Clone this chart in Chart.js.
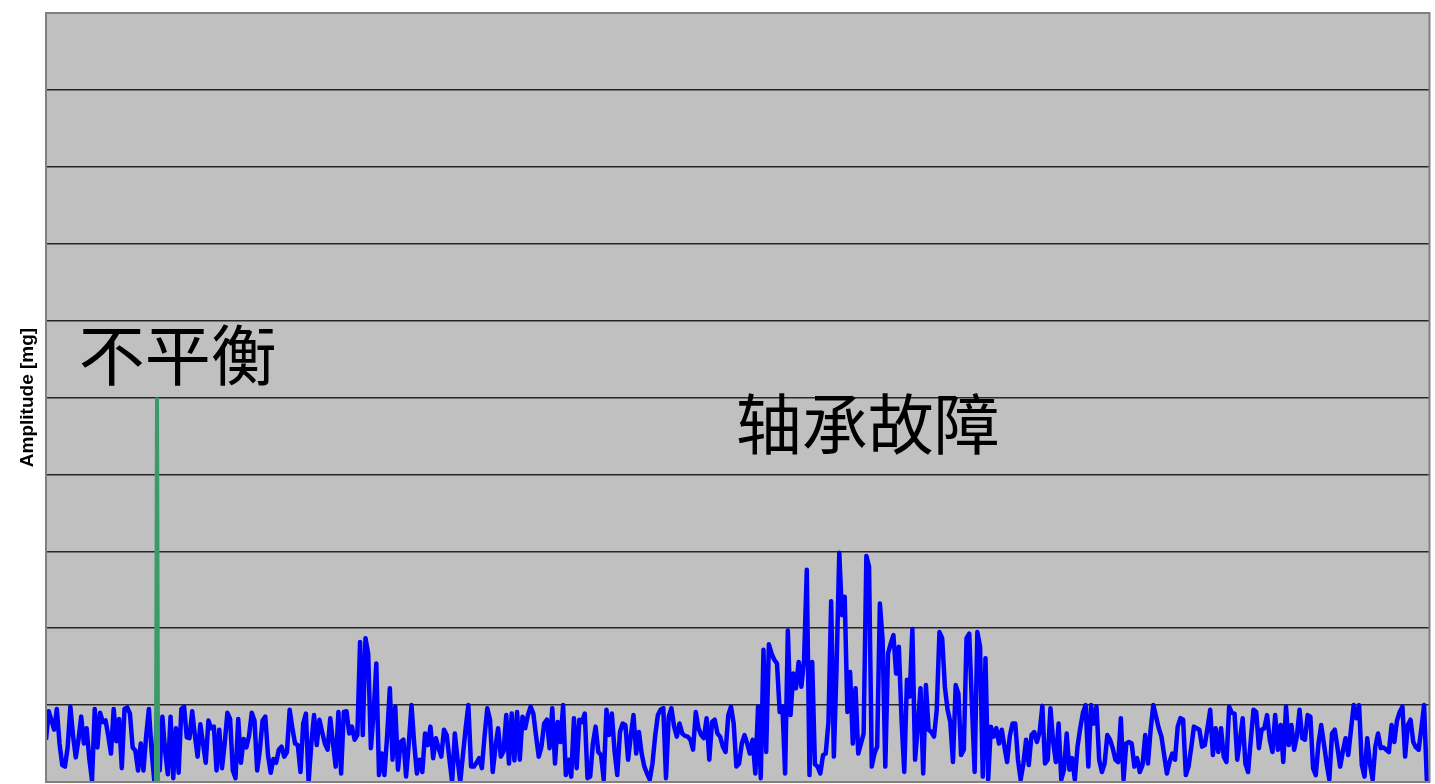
<!DOCTYPE html>
<html>
<head>
<meta charset="utf-8">
<title>Amplitude spectrum</title>
<script src="https://cdn.jsdelivr.net/npm/chart.js"></script>
<style>
  html, body { margin: 0; padding: 0; background: #fff; }
</style>
</head>
<body>
<canvas id="myChart" width="1435" height="784"></canvas>
<script>
// spectrum amplitude, one value per bin in bands (left to right)
const bandA = [
  0.55, 0.92, 0.8, 0.68, 0.95, 0.5, 0.22, 0.2, 0.45, 0.98,
  0.6, 0.32, 0.55, 0.85, 0.5, 0.7, 0.3, 0.02, 0.95, 0.45,
  0.9, 0.78, 0.8, 0.6, 0.37, 0.95, 0.53, 0.82, 0.18, 0.95,
  0.97, 0.89, 0.45, 0.41, 0.15, 0.5, 0.15, 0.6, 0.95, 0.4,
  0.02, 0.9, 0.15, 0.85, 0.4, 0.1, 0.85, 0.05, 0.7, 0.12,
  0.95, 0.98, 0.58, 0.57, 0.92, 0.6, 0.33, 0.75, 0.5, 0.25,
  0.8, 0.7, 0.72, 0.15, 0.68, 0.18, 0.5, 0.9, 0.82, 0.15,
  0.05, 0.82, 0.25, 0.56, 0.45, 0.6, 0.9, 0.8, 0.15, 0.42,
  0.8, 0.85, 0.35, 0.12, 0.3, 0.25, 0.42, 0.46, 0.33, 0.39
];
const bandB = [
  0.94, 0.7, 0.5, 0.48, 0.13, 0.76, 0.89, 0.0, 0.5, 0.87,
  0.48, 0.81, 0.65, 0.5, 0.42, 0.83, 0.5, 0.2, 0.91, 0.11,
  0.91, 0.92, 0.63, 0.72, 0.55, 0.61, 1.82, 0.61, 1.87, 1.67,
  0.44, 0.9, 1.54, 0.09, 0.37, 0.09, 0.6, 1.22, 0.29, 0.98,
  0.16, 0.52, 0.55, 0.07, 0.5, 1.0, 0.5, 0.11, 0.29, 0.13,
  0.63, 0.48, 0.72, 0.31, 0.57, 0.44, 0.33, 0.68, 0.61, 0.3,
  0.0, 0.63, 0.3, 0.0, 0.35, 0.7, 1.0, 0.2, 0.2, 0.25,
  0.31, 0.18, 0.6, 0.96, 0.81, 0.13, 0.45, 0.7, 0.33, 0.4,
  0.87, 0.24, 0.89, 0.28, 0.91, 0.29, 0.85, 0.7, 0.87
];
const bandC = [
  0.98, 0.89, 0.6, 0.33, 0.46, 0.76, 0.81, 0.44, 0.96, 0.24,
  0.78, 0.52, 1.0, 0.09, 0.29, 0.07, 0.83, 0.18, 0.81, 0.78,
  0.89, 0.05, 0.07, 0.5, 0.72, 0.39, 0.35, 0.03, 0.94, 0.61,
  0.89, 0.4, 0.09, 0.65, 0.76, 0.74, 0.29, 0.6, 0.87, 0.37,
  0.65, 0.37, 0.2, 0.11, 0.03, 0.24, 0.6, 0.87, 0.94, 0.96,
  0.05, 0.85, 0.96, 0.72, 0.59, 0.76, 0.63, 0.6, 0.59, 0.55,
  0.42, 0.91, 0.7, 0.61, 0.57, 0.83, 0.29, 0.78, 0.81, 0.63,
  0.59, 0.46, 0.39, 0.87, 0.98, 0.76, 0.2, 0.24, 0.5, 0.61,
  0.5, 0.37, 0.55, 0.11, 0.98, 0.05
];
// bearing fault zone
const bandD = [
  1.72, 0.39, 1.79, 1.67, 1.59, 1.54, 0.91, 0.98, 0.11, 1.97,
  0.87, 1.41, 1.22, 1.56, 1.24, 1.59, 2.76, 0.09, 1.56, 0.23,
  0.2, 0.11, 0.35, 0.37, 0.78, 2.35, 0.33, 1.5, 2.98, 2.17,
  2.41, 0.91, 1.43, 0.5, 1.22, 0.37, 0.5, 0.63, 2.94, 2.8,
  0.2, 0.37, 0.46, 2.32, 1.85, 0.2, 1.67, 1.8, 1.91, 1.41,
  1.76, 0.81, 0.13, 1.33, 1.11, 1.99, 0.29, 0.72, 1.22, 0.11,
  1.26, 0.68, 0.65, 0.59, 0.94, 1.95, 1.87, 1.24, 0.94, 0.78,
  0.26, 1.26, 1.15, 0.35, 0.42, 1.87, 1.93, 1.0, 0.13, 1.95,
  1.76, 0.07, 1.61, 0.03, 0.72, 0.59, 0.7
];
const bandE = [
  0.5, 0.68, 0.46, 0.26, 0.6, 0.76, 0.76, 0.29, 0.03, 0.24,
  0.55, 0.22, 0.61, 0.65, 0.52, 0.65, 0.99, 0.24, 0.29, 0.96,
  0.52, 0.26, 0.76, 0.03, 0.16, 0.63, 0.16, 0.31, 0.03, 0.46,
  0.7, 0.9, 1.0, 0.2, 1.0, 0.76, 0.98, 0.29, 0.13, 0.24,
  0.61, 0.55, 0.44, 0.29, 0.26, 0.83, 0.03, 0.5, 0.52, 0.5,
  0.2, 0.31, 0.13, 0.22, 0.61, 0.24, 0.68, 1.0, 0.85, 0.7,
  0.59, 0.35, 0.11, 0.26, 0.37, 0.29, 0.72, 0.83, 0.81, 0.09,
  0.2, 0.45, 0.72, 0.7, 0.68, 0.46, 0.48, 0.7, 0.94, 0.35,
  0.7, 0.39, 0.7, 0.33, 0.26, 0.98, 0.9, 0.89, 0.29
];
const bandF = [
  0.55, 0.83, 0.24, 0.13, 0.55, 0.94, 0.91, 0.44, 0.68, 0.7,
  0.87, 0.55, 0.39, 0.87, 0.42, 0.74, 0.26, 0.98, 0.48, 0.74,
  0.42, 0.59, 0.94, 0.57, 0.55, 0.87, 0.85, 0.18, 0.09, 0.5,
  0.74, 0.5, 0.24, 0.03, 0.63, 0.68, 0.45, 0.2, 0.4, 0.57,
  0.35, 0.68, 1.0, 0.83, 1.0, 0.22, 0.07, 0.57, 0.24, 0.03,
  0.46, 0.63, 0.44, 0.45, 0.42, 0.39, 0.74, 0.52, 0.8, 0.91,
  0.98, 0.33, 0.74, 0.81, 0.52, 0.45, 0.42, 0.7, 1.0, 0.03, 0.02
];
const amplitude = [...bandA, ...bandB, ...bandC, ...bandD, ...bandE, ...bandF];

// unbalance line (1x running speed)
const spikeBin = [40.6, 41, 41.4];
const spikeAmp = [0, 5, 0];

const noteText = ['不平衡', '轴承故障'];
const noteBin = [48.7, 303.5];
const noteAmp = [5.55, 4.66];

const yMin = 0;
const yMax = 10;
const yStep = 1;

const plotFrame = {
  id: 'plotFrame',
  beforeDraw(chart) {
    const { ctx, chartArea: a } = chart;
    ctx.save();
    ctx.fillStyle = '#c0c0c0';
    ctx.fillRect(a.left, a.top, a.right - a.left, a.bottom - a.top);
    ctx.restore();
  },
  afterDatasetsDraw(chart) {
    const { ctx, chartArea: a, scales } = chart;
    ctx.save();
    ctx.strokeStyle = '#808080';
    ctx.lineWidth = 2;
    ctx.strokeRect(a.left, a.top, a.right - a.left, a.bottom - a.top);

    ctx.fillStyle = '#000';
    ctx.font = '66px "Noto Sans CJK SC"';
    ctx.textAlign = 'center';
    ctx.textBaseline = 'middle';
    noteText.forEach((t, k) => {
      ctx.fillText(t, scales.x.getPixelForValue(noteBin[k]), scales.y.getPixelForValue(noteAmp[k]));
    });
    ctx.restore();
  }
};

const ctx = document.getElementById('myChart').getContext('2d');

const chart = new Chart(ctx, {
  type: 'line',
  data: {
    datasets: [{
      data: amplitude.map((v, i) => ({ x: i, y: v })),
      borderColor: '#0000ff',
      borderWidth: 4.5,
      borderJoinStyle: 'round',
      pointRadius: 0,
      tension: 0,
      order: 2
    }, {
      data: spikeBin.map((b, k) => ({ x: b, y: spikeAmp[k] })),
      borderColor: '#3a9a6a',
      borderWidth: 4,
      pointRadius: 0,
      tension: 0,
      order: 1
    }]
  },
  options: {
    responsive: false,
    animation: false,
    layout: { padding: { left: 16.6, top: 13, right: 5.5, bottom: 2 } },
    plugins: {
      legend: { display: false },
      tooltip: { enabled: false }
    },
    scales: {
      x: {
        type: 'linear',
        display: false,
        min: 0,
        max: amplitude.length - 1
      },
      y: {
        min: yMin,
        max: yMax,
        ticks: { display: false, stepSize: yStep },
        grid: { color: '#262626', lineWidth: 1.5, drawTicks: false },
        border: { display: false },
        title: {
          display: true,
          text: 'Amplitude [mg]',
          color: '#000',
          font: { family: '"Liberation Sans", Arial, sans-serif', size: 19, weight: 'bold' },
          padding: { top: 0, bottom: 6.6 }
        }
      }
    }
  },
  plugins: [plotFrame]
});
</script>
</body>
</html>
